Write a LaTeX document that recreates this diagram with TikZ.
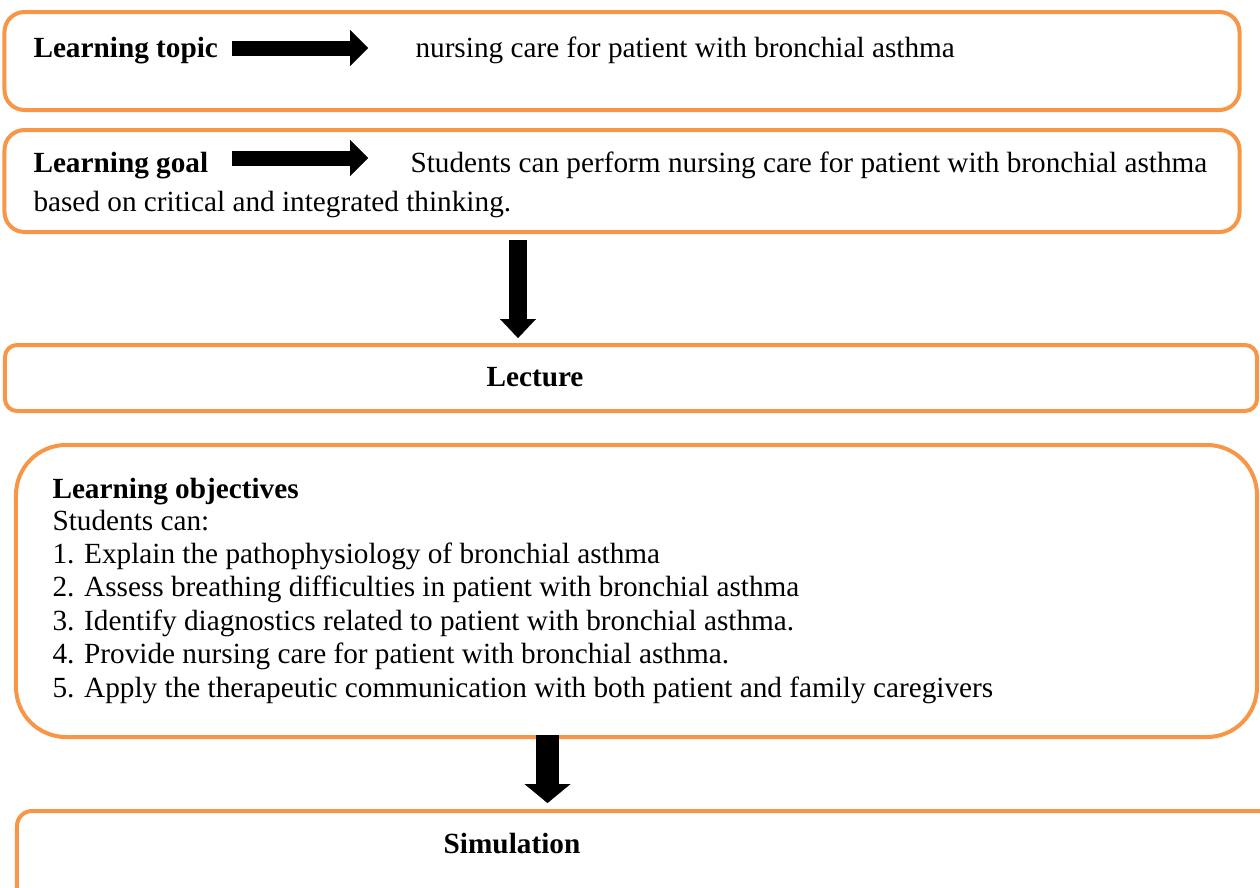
\documentclass[tikz,border=0pt]{standalone}
\usepackage{fontspec}
\setmainfont{Liberation Serif}
\usetikzlibrary{arrows.meta}

\definecolor{boxorange}{HTML}{F79646}

\tikzset{
  stagebox/.style={draw=boxorange, line width=1.6pt, rectangle, inner sep=0pt},
  lbl/.style={anchor=base west, inner sep=0pt, font=\fontsize{11.7}{13.4}\selectfont},
  ctr/.style={anchor=base, inner sep=0pt, font=\fontsize{11.7}{13.4}\selectfont\bfseries},
  rightarrow/.style={line width=6pt, -{Triangle[length=7.2pt, width=14.4pt, line width=0.1pt]}},
  downarrow/.style={line width=#1, -{Triangle[length=7.6pt, width=2*#1, line width=0.1pt]}}
}

\begin{document}
\begin{tikzpicture}[x=0.4pt, y=-0.4pt]
  \useasboundingbox (0,0) rectangle (1260,887);

  % boxes
  \node[stagebox, rounded corners=8pt, minimum width=494pt, minimum height=39.2pt] (topic) at (622,61) {};
  \node[stagebox, rounded corners=8pt, minimum width=494pt, minimum height=40.8pt] (goal) at (622,181) {};
  \node[stagebox, rounded corners=4.8pt, minimum width=500.8pt, minimum height=26.4pt] (lecture) at (631,378) {};
  \node[stagebox, rounded corners=20pt, minimum width=496.4pt, minimum height=116.8pt] (objectives) at (636.5,591) {};
  \node[stagebox, rounded corners=6pt, minimum width=505.2pt, minimum height=40pt] (simulation) at (648.5,861) {};

  % texts
  \node[lbl] (topiclbl) at (33,57) {\bfseries Learning topic};
  \node[lbl] (topictxt) at (415,57) {nursing care for patient with bronchial asthma};
  \node[lbl] (goallbl) at (33,172) {\bfseries Learning goal};
  \node[lbl] (goaltxt) at (410,172) {Students can perform nursing care for patient with bronchial asthma};
  \node[lbl] (goaltxtb) at (33,211) {based on critical and integrated thinking.};
  \node[ctr] (lecturetxt) at (535,386) {Lecture};
  \node[lbl] (objlbl) at (52,498) {\bfseries Learning objectives};
  \foreach \txt [count=\i from 0] in {Students can:,
      1. Explain the pathophysiology of bronchial asthma,
      2. Assess breathing difficulties in patient with bronchial asthma,
      3. Identify diagnostics related to patient with bronchial asthma.,
      4. Provide nursing care for patient with bronchial asthma.,
      5. Apply the therapeutic communication with both patient and family caregivers}
    \node[lbl] (obj\i) at (52,530+33.4*\i) {\txt};
  \node[ctr] (simtxt) at (512,853) {Simulation};

  % arrows
  \coordinate (ta) at (232,48);
  \coordinate (tb) at (368,48);
  \coordinate (ga) at (232,158);
  \coordinate (gb) at (368,158);
  \coordinate (la) at (518,240);
  \coordinate (lb) at (518,338);
  \coordinate (sa) at (547.5,735);
  \coordinate (sb) at (547.5,803);
  \draw[rightarrow] (ta) -- (tb);
  \draw[rightarrow] (ga) -- (gb);
  \draw[downarrow=7.2pt] (la) -- (lb);
  \draw[downarrow=9.2pt] (sa) -- (sb);
\end{tikzpicture}
\end{document}
